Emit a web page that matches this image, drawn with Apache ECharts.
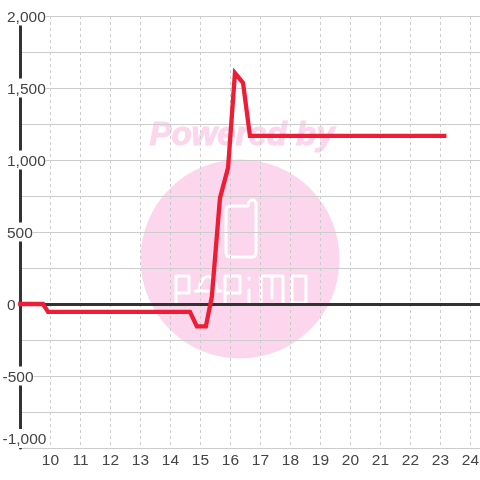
<!DOCTYPE html>
<html>
<head>
<meta charset="utf-8">
<style>
html,body{margin:0;padding:0;background:#fff;}
#chart{width:480px;height:480px;}
</style>
<script src="https://cdn.jsdelivr.net/npm/echarts@6/dist/echarts.min.js"></script>
</head>
<body>
<div id="chart"></div>
<script>
// hour of day / value
var hours = [8.92, 9.75, 9.92, 14.65, 14.88, 15.18, 15.38, 15.65, 15.92, 16.15, 16.42, 16.65, 23.2];
var values = [0, 0, -55, -55, -155, -155, 50, 735, 945, 1604, 1535, 1167, 1167];
var xMin = 9, xMax = 24.32;
var yMin = -1000, yMax = 2000, yStep = 500;

var line_data = [];
for (var i = 0; i < hours.length; i++) {
	line_data.push([hours[i], values[i]]);
}

var pink = '#fcd6ec';

// white strokes of the logo, drawn as plain polylines
function logoLine(points) {
	return {
		type: 'polyline', z: -10, silent: true,
		shape: {points: points},
		style: {stroke: '#fff', lineWidth: 3, fill: null, lineCap: 'round', lineJoin: 'round'}
	};
}
var watermark = [
	{type: 'circle', z: -10, silent: true, shape: {cx: 240, cy: 259, r: 99.5}, style: {fill: pink}},
	{type: 'text', z: -10, silent: true, x: 242, y: 136, style: {
		text: 'Powered by', fill: pink, stroke: pink, lineWidth: 1, font: 'italic bold 33px "Liberation Sans"',
		align: 'center', verticalAlign: 'middle'
	}},
	//phone
	logoLine([[248, 206], [230, 206], [227, 207], [226, 210], [226, 253], [227, 256], [230, 257], [252, 257], [255, 256], [256, 253], [256, 203], [254, 200], [251, 200], [249, 202], [248, 206]]),
	//P
	logoLine([[176, 303], [176, 276], [189, 276], [189, 293], [176, 293]]),
	//A
	logoLine([[199, 291], [200, 284], [204, 278], [208, 276], [212, 278], [216, 284], [217, 291]]),
	logoLine([[195, 291], [221, 291]]),
	//P
	logoLine([[225, 303], [225, 276], [240, 276], [240, 293], [225, 293]]),
	//i
	logoLine([[249, 290], [249, 304]]),
	logoLine([[249, 278], [249, 279]]),
	//M
	logoLine([[261, 303], [261, 276], [283, 276], [283, 303]]),
	logoLine([[272, 276], [272, 298]]),
	//O
	logoLine([[292, 276], [306, 276], [306, 303], [292, 303], [292, 276]])
];

var myChart = echarts.init(document.getElementById('chart'), null, {renderer: 'canvas'});
myChart.setOption({
	animation: false,
	backgroundColor: '#fff',
	textStyle: {fontFamily: 'Liberation Sans'},
	grid: {left: 20.5, right: 0, top: 16, bottom: 32, outerBoundsMode: 'none'},
	graphic: watermark,
	xAxis: [
		{
			type: 'value',
			position: 'bottom',
			min: xMin,
			max: xMax,
			interval: 1,
			axisLine: {show: false, onZero: false},
			axisTick: {show: false},
			axisLabel: {
				color: '#444',
				fontSize: 15.5,
				margin: 5,
				showMaxLabel: false,
				formatter: function (v) {
					return v === xMin ? '' : String(v);
				}
			},
			splitLine: {show: true, lineStyle: {color: '#ccc', width: 1, type: [3, 3]}}
		},
		{
			//the thick zero line
			type: 'value',
			position: 'bottom',
			min: xMin,
			max: xMax,
			axisLine: {show: true, onZero: true, lineStyle: {color: '#333', width: 3}},
			axisTick: {show: false},
			axisLabel: {show: false},
			splitLine: {show: false}
		}
	],
	yAxis: {
		type: 'value',
		min: yMin,
		max: yMax,
		interval: yStep,
		axisLine: {show: true, onZero: false, lineStyle: {color: '#333', width: 3}},
		axisTick: {show: false},
		axisLabel: {
			inside: true,
			align: 'left',
			margin: -18,
			verticalAlignMinLabel: 'bottom',
			//digits line up, the minus sign hangs out to the left
			formatter: function (v) {
				return (v < 0 ? '{neg|' : '{pos|') + echarts.format.addCommas(v) + '}';
			},
			rich: {
				neg: {color: '#444', fontSize: 15.5, backgroundColor: '#fff', padding: [3, 0, 0, 0]},
				pos: {color: '#444', fontSize: 15.5, backgroundColor: '#fff', padding: [3, 0, 0, 4.5]}
			}
		},
		splitLine: {show: true, lineStyle: {color: '#ccc', width: 1}},
		minorTick: {show: false, splitNumber: 2},
		minorSplitLine: {show: true, lineStyle: {color: '#ccc', width: 1}}
	},
	series: [{
		type: 'line',
		xAxisIndex: 0,
		data: line_data,
		symbol: 'none',
		clip: false,
		lineStyle: {color: '#ee1c34', width: 4.3, cap: 'butt', join: 'miter'}
	}]
});
</script>
</body>
</html>
